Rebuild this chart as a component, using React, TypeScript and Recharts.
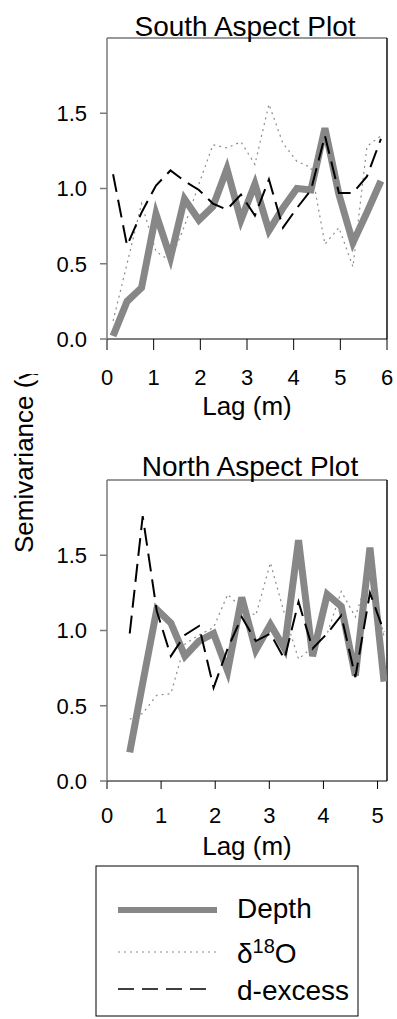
import { LineChart, Line, XAxis, YAxis, ReferenceLine } from "recharts"

const FONT = '"Liberation Sans", Arial, sans-serif'

// South aspect plot
const southLag = [0.13, 0.43, 0.74, 1.05, 1.36, 1.66, 1.97, 2.27, 2.57, 2.87, 3.17, 3.47, 3.77, 4.07, 4.37, 4.67, 4.97, 5.27, 5.57, 5.87]
const southDepth = [0.02, 0.25, 0.34, 0.83, 0.54, 0.93, 0.79, 0.88, 1.13, 0.79, 1.03, 0.72, 0.87, 1.0, 0.99, 1.4, 0.96, 0.64, 0.84, 1.05]
const southO18 = [0.12, 0.5, 0.9, 0.58, 0.52, 0.75, 1.03, 1.29, 1.27, 1.31, 1.16, 1.56, 1.3, 1.18, 1.14, 0.63, 0.74, 0.48, 1.28, 1.35]
const southDex = [1.095, 0.62, 0.84, 1.02, 1.12, 1.05, 0.99, 0.9, 0.86, 0.96, 0.82, 1.06, 0.74, 0.87, 0.99, 1.35, 0.97, 0.97, 1.08, 1.33]

// North aspect plot
const northLag = [0.42, 0.66, 0.92, 1.18, 1.44, 1.7, 1.97, 2.23, 2.49, 2.75, 3.02, 3.28, 3.54, 3.8, 4.07, 4.33, 4.59, 4.86, 5.12]
const northDepth = [0.19, 0.65, 1.14, 1.05, 0.83, 0.93, 0.98, 0.73, 1.22, 0.87, 1.04, 0.88, 1.6, 0.83, 1.24, 1.16, 0.7, 1.55, 0.66]
const northO18 = [0.41, 0.45, 0.57, 0.58, 0.91, 0.97, 1.02, 1.24, 1.15, 1.1, 1.45, 1.11, 0.81, 0.89, 0.98, 1.26, 1.09, 1.4, 0.96]
const northDex = [0.98, 1.76, 1.13, 0.83, 0.97, 1.03, 0.62, 0.88, 1.09, 0.93, 0.98, 0.81, 1.19, 0.88, 0.98, 1.1, 0.69, 1.25, 0.99]

const yTicks = [0, 0.5, 1, 1.5]
const southXTicks = [0, 1, 2, 3, 4, 5, 6]
const northXTicks = [0, 1, 2, 3, 4, 5]

const depthStyle = { stroke: "#878787", strokeWidth: 7 }
const o18Style = { stroke: "#8c8c8c", strokeWidth: 1.2, strokeDasharray: "2 4" }
const dexStyle = { stroke: "#000", strokeWidth: 2, strokeDasharray: "18 8" }

function rows(lag: number[], depth: number[], o18: number[], dex: number[]) {
  return lag.map((l, i) => ({ lag: l, depth: depth[i], o18: o18[i], dex: dex[i] }))
}

function Plot(props: {
  data: any[]
  xMax: number
  xTicks: number[]
  top: number
  xTickSize: number
  xTickMargin: number
}) {
  const { data, xMax, xTicks, top, xTickSize, xTickMargin } = props
  return (
    <div style={{ position: "absolute", left: 0, top }}>
      <LineChart width={397} height={400} data={data} margin={{ top: 38, right: 10, bottom: 10, left: 57 }}>
        <XAxis
          dataKey="lag"
          type="number"
          domain={[0, xMax]}
          ticks={xTicks}
          allowDataOverflow
          height={51}
          stroke="#000"
          tickSize={xTickSize}
          tickMargin={xTickMargin}
          tick={{ fill: "#000", fontSize: 22, fontFamily: FONT }}
        />
        <YAxis
          type="number"
          domain={[0, 2]}
          ticks={yTicks}
          width={50}
          stroke="#7a7a7a"
          strokeWidth={1.5}
          tickSize={7}
          tickMargin={13}
          tickFormatter={(v: number) => v.toFixed(1)}
          tick={{ fill: "#000", fontSize: 22, fontFamily: FONT }}
        />
        <ReferenceLine y={2} stroke="#333" strokeWidth={1} />
        <ReferenceLine x={xMax} stroke="#111" strokeWidth={1.5} />
        <Line type="linear" dataKey="depth" dot={false} isAnimationActive={false} {...depthStyle} />
        <Line type="linear" dataKey="o18" dot={false} isAnimationActive={false} {...o18Style} />
        <Line type="linear" dataKey="dex" dot={false} isAnimationActive={false} {...dexStyle} />
      </LineChart>
    </div>
  )
}

export default function App() {
  return (
    <div style={{ position: "absolute", left: 0, top: 0, width: 397, height: 1019, background: "#fff", overflow: "hidden" }}>
      <Plot data={rows(southLag, southDepth, southO18, southDex)} xMax={6} xTicks={southXTicks} top={0} xTickSize={11} xTickMargin={19} />
      <Plot data={rows(northLag, northDepth, northO18, northDex)} xMax={5.175} xTicks={northXTicks} top={442} xTickSize={8} xTickMargin={18} />
      <svg width={397} height={1019} style={{ position: "absolute", left: 0, top: 0, pointerEvents: "none" }} fontFamily={FONT}>
        <defs>
          <clipPath id="ylab">
            <rect x={0} y={374} width={60} height={300} />
          </clipPath>
        </defs>
        <text x={245} y={35.7} fontSize={28} textAnchor="middle">South Aspect Plot</text>
        <text x={250} y={476} fontSize={28} textAnchor="middle">North Aspect Plot</text>
        <text x={247} y={415} fontSize={26} textAnchor="middle">Lag (m)</text>
        <text x={247} y={855} fontSize={26} textAnchor="middle">Lag (m)</text>
        <g clipPath="url(#ylab)">
          <text x={33} y={553} fontSize={26} transform="rotate(-90 33 553)">Semivariance (γ)</text>
        </g>
        <rect x={96} y={866} width={262} height={150} fill="none" stroke="#000" strokeWidth={1} />
        <line x1={118} x2={217} y1={910} y2={910} {...depthStyle} strokeWidth={6} />
        <text x={237} y={918} fontSize={28}>Depth</text>
        <line x1={118} x2={218} y1={952} y2={952} {...o18Style} />
        <text x={237} y={963} fontSize={28}>
          δ<tspan dy={-10} fontSize={20}>18</tspan>
          <tspan dy={10}>O</tspan>
        </text>
        <line x1={118} x2={210} y1={989} y2={989} stroke="#000" strokeWidth={1.5} strokeDasharray="16 8" />
        <text x={237} y={1000} fontSize={28}>d-excess</text>
      </svg>
    </div>
  )
}
